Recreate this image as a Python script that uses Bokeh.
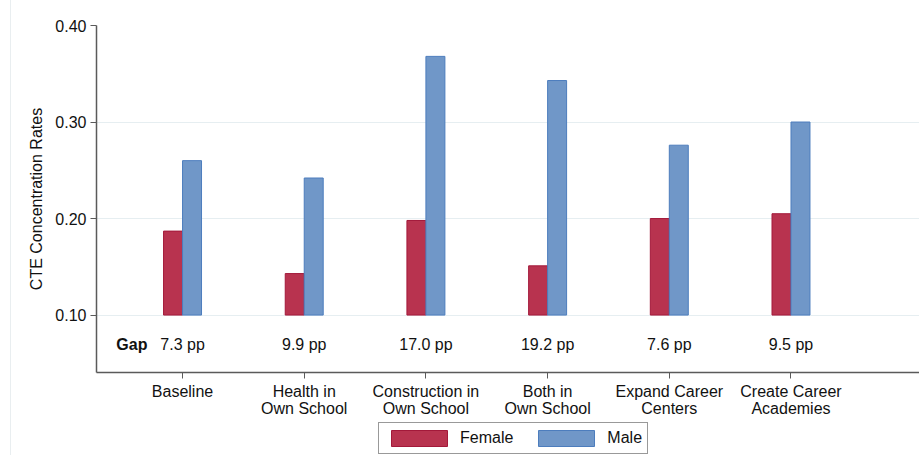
from bokeh.plotting import figure
from bokeh.layouts import column
from bokeh.models import (ColumnDataSource, FixedTicker, Range1d, Legend, LegendItem,
                          NumeralTickFormatter, Label)
from bokeh.transform import dodge
from bokeh.core.properties import value
from bokeh.embed import file_html
from bokeh.resources import INLINE

# CTE concentration rates by scenario
scenarios = ["Baseline", "Health in\nOwn School", "Construction in\nOwn School",
             "Both in\nOwn School", "Expand Career\nCenters", "Create Career\nAcademies"]
female = [0.187, 0.143, 0.198, 0.151, 0.200, 0.205]
male = [0.260, 0.242, 0.368, 0.343, 0.276, 0.300]
y_ticks = [0.10, 0.20, 0.30, 0.40]

FONT = "Liberation Sans"
FS = "16px"
FEMALE_FILL, FEMALE_LINE = "#b8334f", "#a3193a"
MALE_FILL, MALE_LINE = "#7097c8", "#4d7dbd"
EDGE_STYLE = {"background": "linear-gradient(to right, white 10px, #e9eef0 10px, "
                            "#e9eef0 11px, white 11px)"}

pos = list(range(1, len(scenarios) + 1))
gaps = [f"{round((m - f) * 100, 1):.1f} pp" for f, m in zip(female, male)]
src = ColumnDataSource(dict(x=pos, female=female, male=male, gap=gaps,
                            base=[0.10] * len(pos), gap_y=[0.069] * len(pos)))

p = figure(width=919, height=421, output_backend="svg", toolbar_location=None,
           x_range=Range1d(0.293, 7.056), y_range=Range1d(0.0405, 0.40),
           min_border_left=96, min_border_top=25, min_border_right=0,
           min_border_bottom=49, border_fill_color=None,
           background_fill_color="white", outline_line_color=None)
p.styles = EDGE_STYLE

bw = 0.156
bar_f = dict(fill_color=FEMALE_FILL, line_color=FEMALE_LINE, line_width=1)
bar_m = dict(fill_color=MALE_FILL, line_color=MALE_LINE, line_width=1)
p.vbar(x=dodge("x", -bw / 2), top="female", bottom="base", width=bw, source=src, **bar_f)
p.vbar(x=dodge("x", bw / 2), top="male", bottom="base", width=bw, source=src, **bar_m)

# gap annotations beneath each pair of bars
p.text(x="x", y="gap_y", text="gap", source=src, text_align="center",
       text_baseline="middle", text_font=value(FONT), text_font_size=FS,
       text_color="#111111")
p.add_layout(Label(x=0.456, y=0.069, text="Gap", text_align="left",
                   text_baseline="middle", text_font=FONT, text_font_size=FS,
                   text_font_style="bold", text_color="#111111"))

# axes
p.xaxis.ticker = FixedTicker(ticks=pos)
p.xaxis.major_label_overrides = {i: s for i, s in zip(pos, scenarios)}
p.xaxis.major_label_text_line_height = 1.05
p.yaxis.ticker = FixedTicker(ticks=y_ticks)
p.yaxis.formatter = NumeralTickFormatter(format="0.00")
p.yaxis.axis_label = "CTE Concentration Rates"
for ax in (p.xaxis[0], p.yaxis[0]):
    ax.axis_line_color = "#5a5a5a"
    ax.axis_line_width = 1.5
    ax.major_tick_line_color = "#5a5a5a"
    ax.major_tick_in = 0
    ax.major_tick_out = 6
    ax.minor_tick_line_color = None
    ax.major_label_text_font = FONT
    ax.major_label_text_font_size = FS
    ax.major_label_text_color = "#111111"
    ax.major_label_standoff = 4
p.yaxis.axis_label_text_font = FONT
p.yaxis.axis_label_text_font_size = FS
p.yaxis.axis_label_text_font_style = "normal"
p.yaxis.axis_label_text_color = "#111111"
p.yaxis.axis_label_standoff = 7

p.xgrid.grid_line_color = None
p.ygrid.grid_line_color = "#e6eef1"
p.ygrid.grid_line_width = 1

# legend strip under the chart (its frame lines up with the chart frame)
lg = figure(width=919, height=34, output_backend="svg", toolbar_location=None,
            x_range=Range1d(0, 1), y_range=Range1d(0, 1),
            min_border=0, border_fill_color=None, background_fill_color=None,
            outline_line_color=None)
lg.styles = EDGE_STYLE
lg.axis.visible = False
lg.grid.visible = False
key_f = lg.vbar(x="x", top="female", bottom="base", width=bw, source=src,
                visible=False, **bar_f)
key_m = lg.vbar(x="x", top="male", bottom="base", width=bw, source=src,
                visible=False, **bar_m)
legend = Legend(items=[LegendItem(label="Female", renderers=[key_f]),
                       LegendItem(label="Male", renderers=[key_m])],
                orientation="horizontal", location=(282, 1),
                glyph_width=70, glyph_height=20, label_height=20,
                label_standoff=6, spacing=18,
                padding=5, margin=0, border_line_color="#333333", border_line_width=1,
                inactive_fill_alpha=0,
                label_text_font=FONT, label_text_font_size=FS,
                label_text_color="#111111", background_fill_color="white")
lg.add_layout(legend)

open("out.html", "w").write(file_html(column(p, lg, spacing=0), INLINE))
